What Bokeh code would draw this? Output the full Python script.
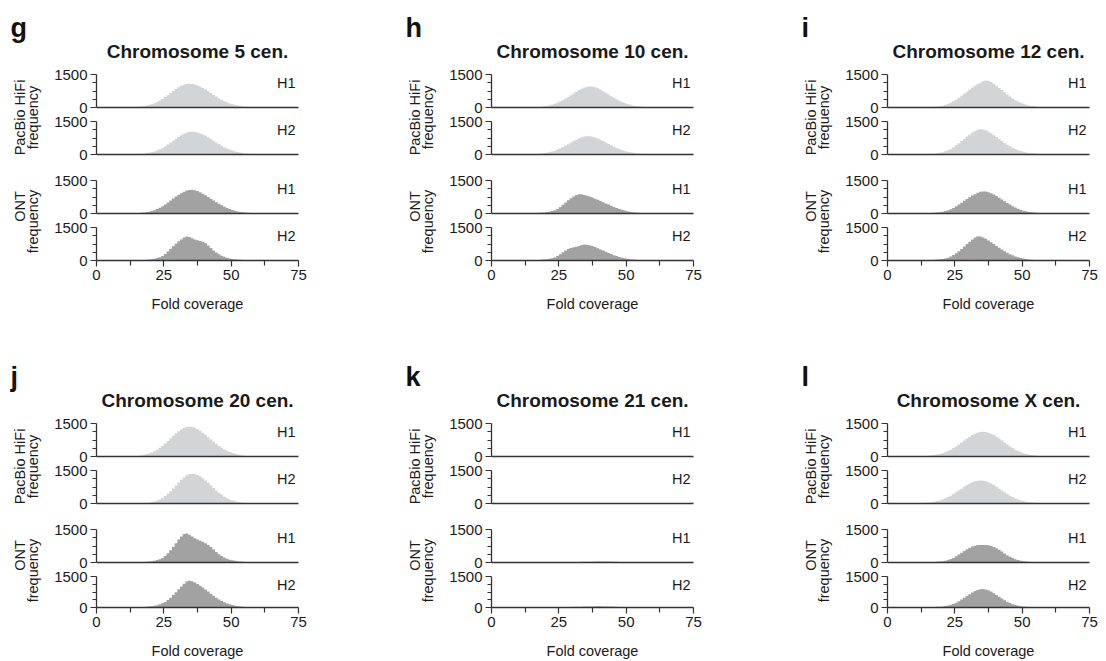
import math
from bokeh.plotting import figure
from bokeh.layouts import row, column
from bokeh.models import Range1d, FixedTicker, Label
from bokeh.embed import file_html
from bokeh.resources import INLINE

# ---------------- data ----------------
bins = list(range(12, 62))          # left edges of 1x fold-coverage bins
x_ticks = [0, 25, 50, 75]
x_minor = [12.5, 37.5, 62.5]
y_ticks = [0, 1500]
y_minor = [375, 750, 1125]
haplotypes = ["H1", "H2", "H1", "H2"]

chr5_pb_h1 = [8, 12, 18, 27, 40, 56, 79, 109, 146, 192,
              248, 314, 389, 472, 562, 656, 748, 837, 917, 985,
              1037, 1069, 1080, 1071, 1047, 1007, 953, 889, 815, 737,
              656, 573, 495, 420, 351, 288, 233, 186, 146, 113,
              86, 65, 48, 35, 25, 17, 12, 9, 5, 3]
chr5_pb_h2 = [5, 7, 11, 18, 26, 38, 54, 75, 104, 139,
              183, 237, 300, 371, 450, 536, 625, 714, 798, 874,
              939, 989, 1020, 1030, 1022, 998, 960, 908, 848, 778,
              702, 625, 547, 472, 401, 335, 275, 222, 177, 139,
              108, 82, 62, 45, 33, 24, 16, 11, 8, 5]
chr5_ont_h1 = [15, 18, 22, 28, 35, 45, 60, 80, 110, 150,
               200, 260, 330, 410, 500, 590, 680, 770, 850, 920,
               990, 1040, 1070, 1075, 1060, 1020, 970, 900, 830, 750,
               670, 590, 510, 440, 370, 310, 250, 200, 160, 125,
               95, 72, 55, 42, 32, 24, 18, 13, 9, 6]
chr5_ont_h2 = [8, 10, 12, 15, 20, 26, 34, 45, 60, 80,
               110, 150, 210, 300, 410, 530, 650, 760, 870, 960,
               1040, 1090, 1070, 1010, 960, 920, 890, 850, 780, 680,
               570, 460, 360, 280, 215, 165, 125, 95, 72, 55,
               42, 32, 24, 18, 13, 10, 7, 5, 3, 2]

chr10_pb_h1 = [5, 7, 10, 14, 20, 28, 38, 52, 70, 95,
               125, 165, 215, 270, 335, 405, 480, 560, 640, 720,
               790, 855, 910, 945, 955, 945, 915, 870, 810, 740,
               665, 590, 515, 440, 370, 305, 250, 200, 158, 123,
               95, 72, 54, 40, 29, 21, 15, 10, 7, 5]
chr10_pb_h2 = [5, 7, 10, 14, 20, 28, 40, 55, 75, 100,
               135, 175, 225, 280, 340, 405, 470, 540, 610, 675,
               735, 785, 820, 830, 825, 805, 770, 725, 670, 610,
               545, 480, 415, 355, 298, 245, 200, 160, 126, 98,
               75, 57, 43, 32, 23, 17, 12, 8, 6, 4]
chr10_ont_h1 = [10, 12, 15, 19, 24, 30, 38, 48, 62, 82,
                110, 150, 210, 300, 400, 500, 600, 690, 770, 840,
                875, 870, 845, 810, 770, 725, 675, 625, 570, 515,
                460, 405, 350, 300, 252, 208, 168, 132, 102, 78,
                58, 43, 32, 24, 18, 13, 10, 7, 5, 4]
chr10_ont_h2 = [8, 10, 12, 15, 19, 25, 32, 42, 55, 75,
                100, 140, 200, 280, 370, 450, 520, 570, 600, 620,
                660, 700, 725, 715, 690, 655, 610, 560, 505, 450,
                395, 340, 290, 243, 200, 162, 130, 102, 80, 62,
                47, 36, 27, 20, 15, 11, 8, 6, 4, 3]

chr12_pb_h1 = [5, 7, 10, 14, 20, 30, 42, 60, 85, 118,
               160, 215, 280, 355, 440, 530, 625, 720, 815, 900,
               985, 1060, 1130, 1190, 1230, 1220, 1160, 1080, 990, 890,
               790, 690, 590, 495, 410, 335, 270, 212, 165, 125,
               95, 70, 52, 38, 27, 19, 13, 9, 6, 4]
chr12_pb_h2 = [5, 8, 12, 17, 25, 36, 52, 75, 105, 145,
               195, 255, 330, 415, 510, 610, 715, 815, 910, 995,
               1070, 1130, 1150, 1140, 1100, 1040, 965, 880, 790, 700,
               610, 525, 445, 372, 306, 248, 198, 156, 122, 94,
               72, 54, 40, 30, 22, 16, 11, 8, 5, 4]
chr12_ont_h1 = [12, 15, 18, 22, 28, 36, 46, 60, 80, 108,
                145, 195, 255, 325, 405, 490, 575, 660, 740, 815,
                880, 940, 985, 1000, 995, 970, 925, 865, 795, 720,
                640, 560, 480, 405, 335, 272, 217, 170, 130, 98,
                73, 54, 40, 29, 21, 15, 11, 8, 5, 4]
chr12_ont_h2 = [10, 12, 15, 19, 24, 31, 40, 52, 70, 95,
                130, 180, 245, 325, 420, 525, 635, 745, 850, 950,
                1040, 1100, 1090, 1050, 985, 910, 830, 745, 660, 575,
                495, 420, 350, 288, 233, 186, 146, 113, 86, 65,
                49, 36, 27, 20, 14, 10, 7, 5, 4, 3]

chr20_pb_h1 = [9, 15, 23, 34, 50, 70, 99, 136, 182, 240,
               310, 393, 486, 590, 702, 819, 936, 1046, 1146, 1231,
               1296, 1336, 1350, 1340, 1305, 1250, 1175, 1085, 985, 880,
               775, 670, 570, 478, 395, 320, 256, 202, 156, 120,
               90, 67, 49, 35, 25, 18, 12, 8, 6, 4]
chr20_pb_h2 = [1, 2, 3, 5, 9, 15, 24, 39, 60, 89,
               130, 183, 252, 337, 440, 557, 686, 823, 957, 1085,
               1195, 1282, 1336, 1355, 1341, 1301, 1236, 1150, 1050, 939,
               822, 705, 592, 488, 394, 312, 241, 183, 137, 99,
               70, 50, 34, 23, 15, 10, 6, 4, 3, 2]
chr20_ont_h1 = [10, 12, 15, 18, 22, 28, 36, 46, 60, 80,
                110, 150, 210, 300, 420, 560, 720, 880, 1040, 1180,
                1300, 1320, 1260, 1180, 1100, 1040, 990, 940, 880, 800,
                700, 590, 480, 380, 295, 225, 170, 130, 100, 78,
                60, 45, 33, 24, 17, 12, 8, 6, 4, 3]
chr20_ont_h2 = [8, 10, 12, 15, 19, 25, 33, 44, 60, 82,
                112, 152, 205, 272, 360, 470, 600, 740, 880, 1020,
                1150, 1260, 1290, 1270, 1215, 1140, 1055, 965, 870, 770,
                670, 570, 475, 390, 315, 250, 196, 152, 116, 88,
                66, 49, 36, 26, 19, 14, 10, 7, 5, 3]

chr21_pb_h1 = [0, 0, 0, 0, 0, 0, 0, 0, 0, 0,
               0, 0, 0, 1, 1, 2, 2, 3, 3, 4,
               4, 4, 4, 4, 4, 3, 3, 3, 2, 2,
               1, 1, 1, 0, 0, 0, 0, 0, 0, 0,
               0, 0, 0, 0, 0, 0, 0, 0, 0, 0]
chr21_pb_h2 = [0, 0, 0, 0, 0, 0, 0, 0, 0, 0,
               1, 2, 3, 4, 5, 6, 7, 8, 9, 10,
               10, 11, 11, 11, 10, 10, 9, 8, 7, 6,
               5, 4, 3, 2, 2, 1, 1, 0, 0, 0,
               0, 0, 0, 0, 0, 0, 0, 0, 0, 0]
chr21_ont_h1 = [2, 2, 2, 2, 2, 2, 3, 4, 5, 6,
                8, 10, 12, 14, 16, 18, 20, 22, 24, 26,
                28, 30, 32, 34, 36, 38, 40, 41, 42, 42,
                41, 40, 37, 34, 30, 25, 20, 16, 12, 9,
                7, 5, 4, 3, 2, 2, 1, 1, 0, 0]
chr21_ont_h2 = [2, 2, 2, 3, 3, 4, 5, 6, 7, 9,
                11, 13, 15, 18, 21, 24, 27, 30, 33, 36,
                39, 42, 45, 48, 50, 52, 54, 55, 55, 54,
                52, 49, 45, 40, 34, 28, 22, 17, 13, 10,
                7, 5, 4, 3, 2, 2, 1, 1, 0, 0]

chrX_pb_h1 = [10, 15, 22, 32, 45, 63, 86, 115, 151, 196,
              250, 311, 382, 460, 545, 634, 725, 813, 897, 972,
              1034, 1081, 1110, 1120, 1110, 1081, 1034, 972, 897, 813,
              725, 634, 545, 460, 382, 311, 250, 196, 151, 115,
              86, 63, 45, 32, 22, 15, 10, 7, 5, 3]
chrX_pb_h2 = [14, 21, 30, 42, 59, 80, 108, 141, 183, 233,
              291, 356, 430, 509, 591, 676, 759, 837, 907, 964,
              1008, 1036, 1045, 1036, 1008, 964, 907, 837, 759, 676,
              591, 509, 430, 356, 291, 233, 183, 141, 108, 80,
              59, 42, 30, 21, 14, 9, 6, 4, 3, 2]
chrX_ont_h1 = [8, 10, 12, 15, 18, 23, 30, 40, 55, 78,
               110, 155, 210, 280, 360, 440, 520, 600, 670, 725,
               765, 790, 800, 800, 795, 780, 750, 705, 645, 575,
               495, 410, 330, 260, 200, 150, 110, 80, 58, 42,
               30, 22, 16, 12, 9, 6, 4, 3, 2, 1]
chrX_ont_h2 = [8, 10, 12, 15, 19, 24, 31, 40, 53, 72,
               98, 132, 178, 235, 305, 385, 470, 560, 645, 725,
               795, 850, 885, 890, 870, 830, 770, 695, 610, 520,
               430, 348, 275, 212, 160, 118, 86, 62, 44, 31,
               22, 15, 11, 8, 6, 4, 3, 2, 1, 1]

panel_letters = ["g", "h", "i", "j", "k", "l"]
panel_titles = ["Chromosome 5 cen.", "Chromosome 10 cen.", "Chromosome 12 cen.",
                "Chromosome 20 cen.", "Chromosome 21 cen.", "Chromosome X cen."]
panel_series = [
    [chr5_pb_h1, chr5_pb_h2, chr5_ont_h1, chr5_ont_h2],
    [chr10_pb_h1, chr10_pb_h2, chr10_ont_h1, chr10_ont_h2],
    [chr12_pb_h1, chr12_pb_h2, chr12_ont_h1, chr12_ont_h2],
    [chr20_pb_h1, chr20_pb_h2, chr20_ont_h1, chr20_ont_h2],
    [chr21_pb_h1, chr21_pb_h2, chr21_ont_h1, chr21_ont_h2],
    [chrX_pb_h1, chrX_pb_h2, chrX_ont_h1, chrX_ont_h2],
]

# ---------------- style ----------------
FONT = "Liberation Sans"
PB_COLOR = "#d3d4d6"
ONT_COLOR = "#a2a2a2"
AXIS = "#333333"
TEXT = "#1a1a1a"
LEFT_W = 50
AX_LEFT = 46
FRAME_W = 202
FRAME_H = 33
ROW_H = [349, 312]
RIGHT_B = [97, 98, 17]


def subplot(values, color, hap, top, bottom, right, title=None, show_x=False):
    p = figure(width=AX_LEFT + FRAME_W + right, height=top + FRAME_H + bottom,
               x_range=Range1d(0, 75), y_range=Range1d(0, 1500),
               output_backend="svg", toolbar_location=None,
               min_border_left=AX_LEFT, min_border_right=right,
               min_border_top=top, min_border_bottom=bottom)
    p.outline_line_color = None
    p.xgrid.visible = False
    p.ygrid.visible = False
    edges = bins + [bins[-1] + 1]
    heights = values + [0]
    p.varea_step(x=edges, y1=0, y2=heights, step_mode="after",
                 fill_color=color)

    ya = p.yaxis[0]
    ya.ticker = FixedTicker(ticks=y_ticks, minor_ticks=y_minor)
    ya.axis_line_color = AXIS
    ya.axis_line_width = 1.3
    ya.major_tick_line_color = AXIS
    ya.minor_tick_line_color = AXIS
    ya.major_tick_line_width = 1.2
    ya.minor_tick_line_width = 1.2
    ya.major_tick_in = 0
    ya.major_tick_out = 6
    ya.minor_tick_in = 0
    ya.minor_tick_out = 4
    ya.major_label_standoff = 3
    ya.major_label_text_font = FONT
    ya.major_label_text_font_size = "15px"
    ya.major_label_text_color = TEXT

    xa = p.xaxis[0]
    xa.axis_line_color = AXIS
    xa.axis_line_width = 1.3
    if show_x:
        xa.ticker = FixedTicker(ticks=x_ticks, minor_ticks=x_minor)
        xa.major_tick_line_color = AXIS
        xa.minor_tick_line_color = AXIS
        xa.major_tick_line_width = 1.2
        xa.minor_tick_line_width = 1.2
        xa.major_tick_in = 0
        xa.major_tick_out = 6
        xa.minor_tick_in = 0
        xa.minor_tick_out = 5
        xa.major_label_standoff = 3
        xa.major_label_text_font = FONT
        xa.major_label_text_font_size = "15px"
        xa.major_label_text_color = TEXT
        xa.axis_label = "Fold coverage"
        xa.axis_label_standoff = 13
        xa.axis_label_text_font = FONT
        xa.axis_label_text_font_size = "14.5px"
        xa.axis_label_text_font_style = "normal"
        xa.axis_label_text_color = TEXT
    else:
        xa.ticker = FixedTicker(ticks=[], minor_ticks=[])
        xa.major_tick_out = 0
        xa.major_tick_in = 0
        xa.minor_tick_out = 0
        xa.minor_tick_in = 0
        xa.major_label_standoff = 0
        xa.major_label_text_font_size = "0px"

    p.add_layout(Label(x=75, y=1500, x_offset=-3, text=hap, text_align="right",
                       text_baseline="top", text_font=FONT, text_font_size="14.5px",
                       text_color=TEXT))
    if title:
        p.title.text = title
        p.title.align = "center"
        p.title.text_font = FONT
        p.title.text_font_size = "19px"
        p.title.text_font_style = "bold"
        p.title.text_color = TEXT
        p.title.standoff = 25
    return p


def label_column(H, letter):
    p = figure(width=LEFT_W, height=H, x_range=Range1d(0, LEFT_W), y_range=Range1d(0, H),
               output_backend="svg", toolbar_location=None, x_axis_type=None,
               y_axis_type=None, min_border=0)
    p.outline_line_color = None
    p.add_layout(Label(x=10, y=H - 27, text=letter, text_align="left",
                       text_baseline="alphabetic", text_font=FONT,
                       text_font_size="27px", text_font_style="bold", text_color="#111111"))
    for txt, x, yc in [("PacBio HiFi", 19, 117), ("frequency", 32, 117),
                       ("ONT", 19, 206), ("frequency", 32, 221)]:
        p.add_layout(Label(x=x, y=H - yc, text=txt, angle=math.pi / 2,
                           text_align="center", text_baseline="middle",
                           text_font=FONT, text_font_size="14.5px", text_color=TEXT))
    return p


rows = []
for r in range(2):
    H = ROW_H[r]
    panels = []
    for c in range(3):
        k = r * 3 + c
        right = RIGHT_B[c]
        s = panel_series[k]
        f1 = subplot(s[0], PB_COLOR, haplotypes[0], 74, 7, right, title=panel_titles[k])
        f2 = subplot(s[1], PB_COLOR, haplotypes[1], 7, 13, right)
        f3 = subplot(s[2], ONT_COLOR, haplotypes[2], 13, 7, right)
        f4_bottom = H - (74 + FRAME_H + 7) - (7 + FRAME_H + 13) - (13 + FRAME_H + 7) - (7 + FRAME_H)
        f4 = subplot(s[3], ONT_COLOR, haplotypes[3], 7, f4_bottom, right, show_x=True)
        panels.append(row(label_column(H, panel_letters[k]),
                          column(f1, f2, f3, f4, spacing=0), spacing=0))
    rows.append(row(*panels, spacing=0))

layout = column(*rows, spacing=0)
open("out.html", "w").write(file_html(layout, INLINE))
